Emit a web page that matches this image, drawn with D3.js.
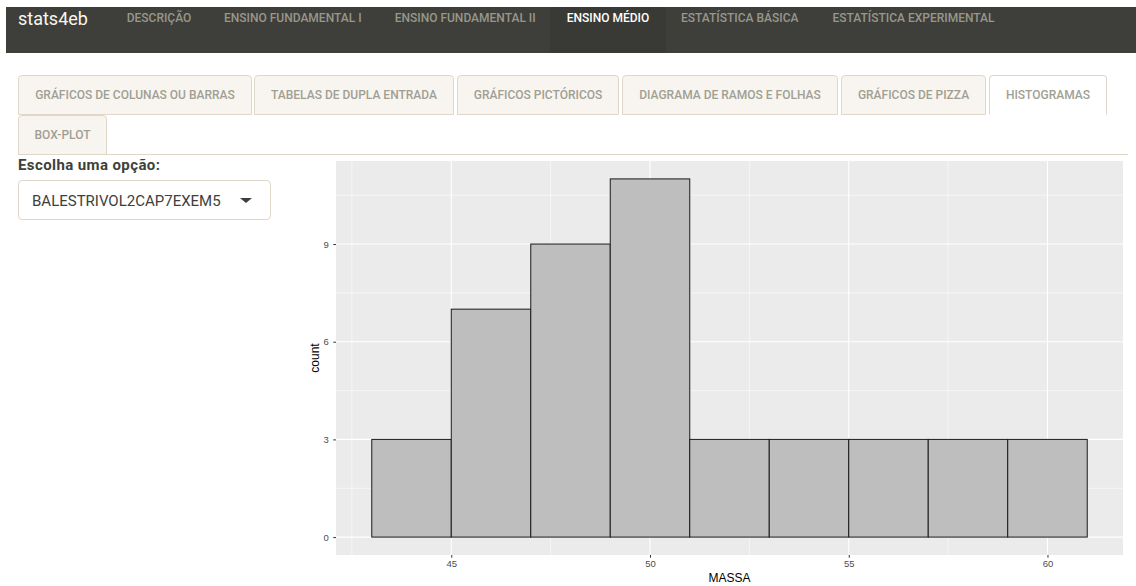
<!DOCTYPE html>
<html lang="pt">
<head>
<meta charset="UTF-8">
<title>stats4eb</title>
<style>
  body { margin: 0; background: #fff; font-family: Roboto, "Noto Sans", sans-serif; }
  #page { position: relative; width: 1136px; height: 586px; overflow: hidden; }
  .navbar { position: absolute; left: 6px; right: 0; top: 7px; height: 46px; background: #3e3f3a; }
  .navbar .brand { position: absolute; left: 12px; top: -1px; font-size: 18px; line-height: 26px; color: #f8f5f0; }
  .navbar .item { position: absolute; top: 0; height: 46px; padding: 0 16.5px; font-size: 12px; font-weight: 500;
    color: #98978b; line-height: 23px; white-space: nowrap; text-transform: uppercase; }
  .navbar .item.active { background: #393a35; color: #fff; }
  .tab { position: absolute; height: 40px; box-sizing: border-box; background: #f8f5f0;
    border: 1px solid #dfd7ca; border-radius: 4px 4px 0 0; font-size: 12px; font-weight: 500;
    color: #a09f94; text-align: center; line-height: 38px; text-transform: uppercase; }
  .tab.active { background: #fff; border-bottom-color: #fff; }
  .tabline { position: absolute; left: 18px; width: 1110px; top: 154px; height: 1px; background: #dfd7ca; }
  .label { position: absolute; left: 18px; top: 156px; font-size: 15px; font-weight: 700;
    letter-spacing: 0.4px; color: #3e3f3a; }
  .select { position: absolute; left: 18px; top: 180px; width: 253px; height: 40px; box-sizing: border-box;
    border: 1px solid #dfd7ca; border-radius: 4px; font-size: 15px; color: #3e3f3a;
    line-height: 40px; padding-left: 13px; }
  .caret { position: absolute; left: 221px; top: 17px; width: 0; height: 0;
    border-left: 6px solid transparent; border-right: 6px solid transparent; border-top: 5px solid #3e3f3a; }
  #chart { position: absolute; left: 290px; top: 158px; }
</style>
</head>
<body>
<div id="page"></div>

<script src="https://cdn.jsdelivr.net/npm/d3@7"></script>
<script>
  // menu and tabs
  var navItems = ["DESCRIÇÃO", "ENSINO FUNDAMENTAL I", "ENSINO FUNDAMENTAL II", "ENSINO MÉDIO",
                  "ESTATÍSTICA BÁSICA", "ESTATÍSTICA EXPERIMENTAL"];
  var tabNames = ["GRÁFICOS DE COLUNAS OU BARRAS", "TABELAS DE DUPLA ENTRADA", "GRÁFICOS PICTÓRICOS",
                  "DIAGRAMA DE RAMOS E FOLHAS", "GRÁFICOS DE PIZZA", "HISTOGRAMAS", "BOX-PLOT"];
  var option = "BALESTRIVOL2CAP7EXEM5";

  // histogram data
  var binEdges = [43, 45, 47, 49, 51, 53, 55, 57, 59, 61];
  var counts = [3, 7, 9, 11, 3, 3, 3, 3, 3];
  var xTicks = [45, 50, 55, 60];
  var yTicks = [0, 3, 6, 9];
  var xTitle = "MASSA";
  var yTitle = "count";

  var page = d3.select("#page");

  // ---- top navbar ----
  var navText = [126.7, 224, 394.7, 566.7, 681, 832.5];  // where each label starts on the page
  var nav = page.append("div").attr("class", "navbar");
  nav.append("div").attr("class", "brand").text("stats4eb");
  nav.selectAll(".item")
    .data(navItems)
    .enter()
    .append("div")
    .attr("class", function (d) { return d == "ENSINO MÉDIO" ? "item active" : "item"; })
    .style("left", function (d, i) { return (navText[i] - 6 - 16.5) + "px"; })
    .text(function (d) { return d; });

  // ---- tabs ----
  var tabBox = [[18, 75, 234], [254, 75, 200], [457, 75, 162], [622, 75, 216],
                [841, 75, 145], [989, 75, 118], [18, 115, 89]];
  page.selectAll(".tab")
    .data(tabNames)
    .enter()
    .append("div")
    .attr("class", function (d) { return d == "HISTOGRAMAS" ? "tab active" : "tab"; })
    .style("left", function (d, i) { return tabBox[i][0] + "px"; })
    .style("top", function (d, i) { return tabBox[i][1] + "px"; })
    .style("width", function (d, i) { return tabBox[i][2] + "px"; })
    .text(function (d) { return d; });
  page.append("div").attr("class", "tabline");

  page.append("div").attr("class", "label").text("Escolha uma opção:");
  var sel = page.append("div").attr("class", "select").text(option);
  sel.append("div").attr("class", "caret");

  // ---- histogram (ggplot2 look) ----
  var width = 846, height = 428;
  var margin = { left: 46, top: 3, right: 13, bottom: 31 };

  var svg = page.append("svg")
    .attr("id", "chart")
    .attr("width", width)
    .attr("height", height);

  var xMin = d3.min(binEdges), xMax = d3.max(binEdges);
  var xPad = (xMax - xMin) * 0.05;
  var yMax = d3.max(counts);

  var x = d3.scaleLinear()
    .domain([xMin - xPad, xMax + xPad])
    .range([margin.left, width - margin.right]);
  var y = d3.scaleLinear()
    .domain([-yMax * 0.05, yMax * 1.05])
    .range([height - margin.bottom, margin.top]);

  // minor breaks halfway between the major ones
  function minors(ticks, dom) {
    var step = ticks[1] - ticks[0];
    var out = [];
    for (var v = ticks[0] - step / 2; v <= dom[1]; v += step) {
      if (v >= dom[0] && ticks.indexOf(v) < 0) out.push(v);
    }
    return out;
  }

  svg.append("rect")
    .attr("x", x.range()[0])
    .attr("y", y.range()[1])
    .attr("width", x.range()[1] - x.range()[0])
    .attr("height", y.range()[0] - y.range()[1])
    .attr("fill", "#EBEBEB");

  var grid = svg.append("g");
  grid.selectAll(".xminor").data(minors(xTicks, x.domain())).enter().append("line")
    .attr("x1", x).attr("x2", x).attr("y1", y.range()[0]).attr("y2", y.range()[1])
    .attr("stroke", "#fff").attr("stroke-width", 0.55);
  grid.selectAll(".yminor").data(minors(yTicks, y.domain())).enter().append("line")
    .attr("y1", y).attr("y2", y).attr("x1", x.range()[0]).attr("x2", x.range()[1])
    .attr("stroke", "#fff").attr("stroke-width", 0.55);
  grid.selectAll(".xmajor").data(xTicks).enter().append("line")
    .attr("x1", x).attr("x2", x).attr("y1", y.range()[0]).attr("y2", y.range()[1])
    .attr("stroke", "#fff").attr("stroke-width", 1.1);
  grid.selectAll(".ymajor").data(yTicks).enter().append("line")
    .attr("y1", y).attr("y2", y).attr("x1", x.range()[0]).attr("x2", x.range()[1])
    .attr("stroke", "#fff").attr("stroke-width", 1.1);

  // bars
  svg.selectAll(".bar")
    .data(counts)
    .enter()
    .append("rect")
    .attr("x", function (d, i) { return x(binEdges[i]); })
    .attr("y", function (d) { return y(d); })
    .attr("width", function (d, i) { return x(binEdges[i + 1]) - x(binEdges[i]); })
    .attr("height", function (d) { return y(0) - y(d); })
    .attr("fill", "#BEBEBE")
    .attr("stroke", "#1a1a1a")
    .attr("stroke-width", 1);

  // axes
  var xAxis = svg.append("g")
    .attr("transform", "translate(0," + y.range()[0] + ")")
    .call(d3.axisBottom(x).tickValues(xTicks).tickSize(2.7).tickPadding(3));
  var yAxis = svg.append("g")
    .attr("transform", "translate(" + x.range()[0] + ",0)")
    .call(d3.axisLeft(y).tickValues(yTicks).tickSize(2.7).tickPadding(4.5));
  [xAxis, yAxis].forEach(function (a) {
    a.select(".domain").remove();
    a.selectAll("line").attr("stroke", "#333");
    a.selectAll("text")
      .attr("fill", "#4D4D4D")
      .style("font-family", "'Liberation Sans', Arial, sans-serif")
      .style("font-size", "9.5px");
  });

  svg.append("text")
    .attr("x", (x.range()[0] + x.range()[1]) / 2)
    .attr("y", height - 4)
    .attr("text-anchor", "middle")
    .style("font-family", "'Liberation Sans', Arial, sans-serif")
    .style("font-size", "12px")
    .text(xTitle);

  svg.append("text")
    .attr("transform", "translate(29," + (y.range()[0] + y.range()[1]) / 2 + ") rotate(-90)")
    .attr("text-anchor", "middle")
    .style("font-family", "'Liberation Sans', Arial, sans-serif")
    .style("font-size", "12px")
    .text(yTitle);
</script>
</body>
</html>
